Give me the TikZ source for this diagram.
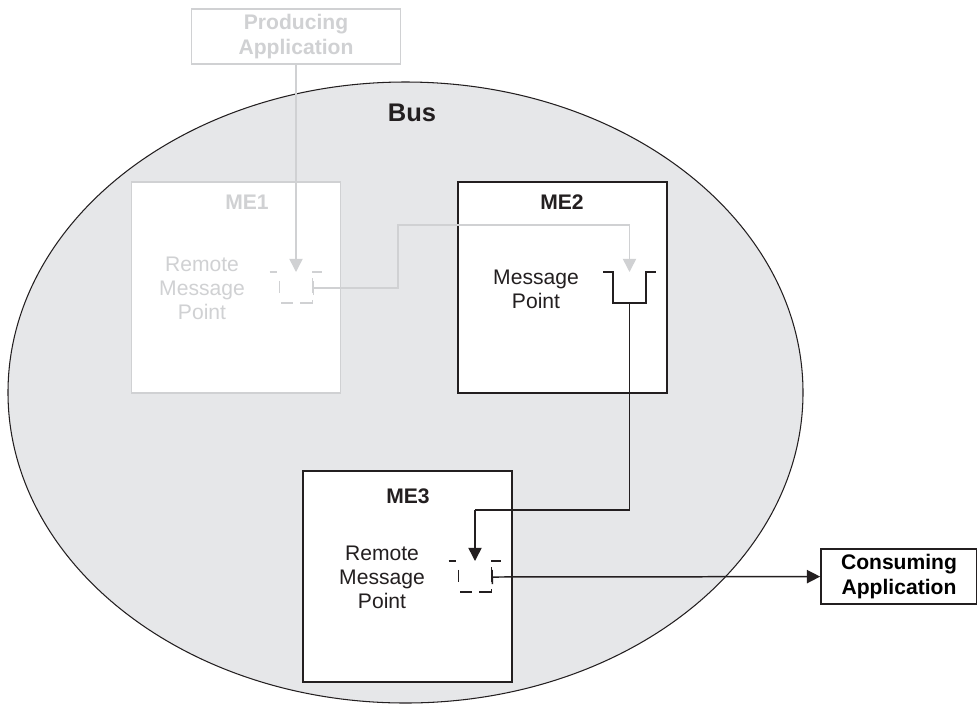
\documentclass[tikz,border=0pt]{standalone}
\usepackage{fontspec}
\setmainfont{Liberation Sans}
\usetikzlibrary{arrows.meta,positioning}

\definecolor{busgrey}{HTML}{E6E7E9}
\definecolor{fadegrey}{HTML}{D0D1D3}
\definecolor{ink}{HTML}{231F20}

\tikzset{
  mebox/.style={draw=ink, line width=1pt, fill=white, minimum width=4.18cm, minimum height=4.22cm, inner sep=0pt},
  appbox/.style={draw=ink, line width=1pt, fill=white, align=center, inner sep=0pt, minimum height=1.1cm, font=\fontsize{12}{14.2}\selectfont\bfseries},
  txt/.style={align=center, text=ink, inner sep=0pt, font=\fontsize{12}{13.6}\selectfont},
  lbl/.style={text=ink, inner sep=0pt, font=\fontsize{12}{14}\selectfont\bfseries},
  conn/.style={draw=ink, line width=0.85pt, {Bar[width=8pt]}->},
  queue/.style={draw=ink, line width=1pt},
  dashq/.style={queue, dash pattern=on 4.5pt off 6.2pt on 6.8pt off 6.8pt on 6.8pt off 4pt on 8.5pt off 4pt on 8.5pt off 3.4pt on 5.7pt off 20pt},
  fadeq/.style={dashq, draw=fadegrey}
}

\begin{document}
\begin{tikzpicture}[x=0.02cm, y=-0.02cm, >={Triangle[length=7.5pt,width=7.5pt]}]

\useasboundingbox (0,0) rectangle (977,704);

% the bus
\draw[fill=busgrey, draw=ink, line width=0.6pt] (405.5,392.5) ellipse [x radius=397.5, y radius=310.5];
\node[lbl, font=\fontsize{14.5}{16}\selectfont\bfseries] (bus) at (412,113) {Bus};

% applications
\node[appbox, draw=fadegrey, text=fadegrey, minimum width=4.18cm] (prod) at (296,36.5) {Producing\\Application};
\node[appbox, minimum width=3.12cm] (cons) at (899,576.5) {Consuming\\Application};

% messaging engines
\node[mebox, draw=fadegrey] (me1) at (236,287.5) {};
\node[mebox] (me2) at (562.5,287.5) {};
\node[mebox] (me3) at (407.5,576.5) {};

\node[lbl, text=fadegrey] (me1lbl) at (247,202) {ME1};
\node[lbl] (me2lbl) at (562,202) {ME2};
\node[lbl] (me3lbl) at (408,496) {ME3};

\node[txt, text=fadegrey] (me1txt) at (202,288) {Remote\\Message\\Point};
\node[txt] (me2txt) at (536,289) {Message\\Point};
\node[txt] (me3txt) at (382,577) {Remote\\Message\\Point};

% queue points (top centre of each)
\coordinate (q1) at (296,272);
\coordinate (q2) at (629.5,272);
\coordinate (q3) at (475,561);

\foreach \q/\st in {q1/fadeq, q2/queue, q3/dashq} {
\draw[\st, shift={(\q)}] (-26.5,0) -- (-16.5,0) -- (-16.5,31) -- (16.5,31) -- (16.5,0) -- (26.5,0);
}

\coordinate (q1out) at (312.5,288);
\coordinate (q2bot) at (629.5,303);
\coordinate (q3out) at (491.5,577);
\coordinate (bend1) at (398,225);
\coordinate (bend2) at (475,510);

% flow of messages
\draw[conn, draw=fadegrey, -{Triangle[length=7.5pt,width=7.5pt,fill=fadegrey]}] (prod) -- (q1);
\draw[conn, draw=fadegrey, {Bar[width=8pt]}-{Triangle[length=7.5pt,width=7.5pt,fill=fadegrey]}] (q1out) -| (bend1) -| (q2);
\draw[conn, -] (q2bot) |- (bend2);
\draw[conn, -{Triangle[length=7.5pt,width=7.5pt]}] (bend2) -- (q3);
\draw[conn] (q3out) -- (cons);

\end{tikzpicture}
\end{document}
